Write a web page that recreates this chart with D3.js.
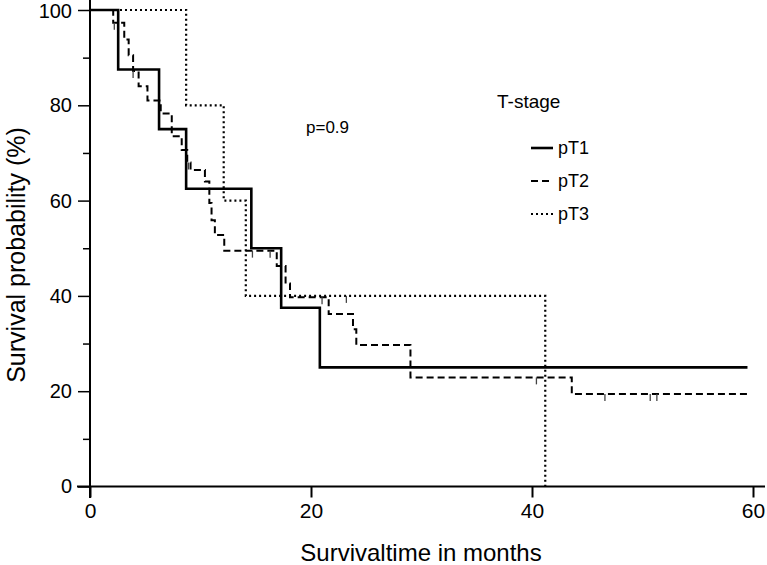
<!DOCTYPE html>
<html><head><meta charset="utf-8">
<script src="https://cdn.jsdelivr.net/npm/d3@7"></script>
<style>body{margin:0;background:#fff}svg{display:block}text{font-family:"Liberation Sans",Arial,sans-serif;fill:#000}</style>
</head><body><svg id="c" width="767" height="565"></svg>
<script>
// Data (months, survival %)
const pT1 = [[0,100],[2.55,87.5],[6.25,75],[8.7,62.5],[14.6,50],[17.3,37.5],[20.8,25],[59.5,25]];
const pT2 = [[0,100],[2.1,97.3],[3.1,93.8],[3.5,90.5],[3.9,87.2],[4.4,84],[5.2,81],[6.4,78.3],[7.4,73.5],[8.3,70.6],[8.8,68],[9.1,66.4],[10.4,64],[10.8,59.5],[11.0,55.9],[11.3,52.8],[12.15,49.5],[16.9,46.3],[17.7,42.6],[18.1,39.7],[21.6,36.2],[23.8,33.0],[24.1,29.7],[29.0,22.9],[43.6,19.4],[59.5,19.4]];
const pT3 = [[0,100],[8.7,80],[12.1,60],[14.1,40],[41.2,40],[41.2,0]];
const censT1 = [];
const censT2 = [[2.2,97.3],[3.9,87.2],[8.9,68],[14.7,49.5],[16.3,49.5],[21.0,39.7],[40.4,22.9],[46.6,19.4],[50.7,19.4],[51.3,19.4]];
const censT3 = [[23.2,40]];
const seriesNames = ["pT1","pT2","pT3"];
const xTicks = [0,20,40,60];
const yTicks = [0,10,20,30,40,50,60,70,80,90,100];
const yLabelTicks = [0,20,40,60,80,100];
const pText = "p=0.9";

const svg = d3.select("#c");
const x = d3.scaleLinear().domain([0,60]).range([90,753]);
const y = d3.scaleLinear().domain([0,100]).range([486.5,10]);

// axes
const xAxis = d3.axisBottom(x).tickValues(xTicks).tickSize(11).tickPadding(6).tickFormat(d3.format("d"));
const gx = svg.append("g").attr("transform","translate(0,486.5)").call(xAxis);
gx.select(".domain").remove();
gx.selectAll(".tick line").attr("stroke","#000").attr("stroke-width",2);
gx.selectAll(".tick text").style("font-size","21px");
svg.append("line").attr("x1",77).attr("x2",765).attr("y1",486.5).attr("y2",486.5).attr("stroke","#000").attr("stroke-width",2);

const yAxis = d3.axisLeft(y).tickValues(yTicks).tickSize(12).tickPadding(6)
  .tickFormat(d => yLabelTicks.includes(d) ? d : "");
const gy = svg.append("g").attr("transform","translate(90,0)").call(yAxis);
gy.select(".domain").remove();
gy.selectAll(".tick line").attr("stroke","#000").attr("stroke-width",1.5)
  .attr("x2", d => yLabelTicks.includes(d) ? -12 : -7);
gy.selectAll(".tick text").style("font-size","20px").attr("dy", d => d===100 ? "0.38em" : "0.32em");
svg.append("line").attr("x1",90).attr("x2",90).attr("y1",0).attr("y2",498).attr("stroke","#000").attr("stroke-width",2);

// curves
const line = d3.line().x(d=>x(d[0])).y(d=>y(d[1])).curve(d3.curveStepAfter);
const styles = {
  pT1:{w:2.6,dash:null},
  pT2:{w:2,dash:"7,4"},
  pT3:{w:2.2,dash:"2,3"}
};
const data = {pT1:pT1,pT2:pT2,pT3:pT3};
const cens = {pT1:censT1,pT2:censT2,pT3:censT3};
seriesNames.forEach(n=>{
  svg.append("path").datum(data[n]).attr("d",line).attr("fill","none")
    .attr("stroke","#000").attr("stroke-width",styles[n].w)
    .attr("stroke-dasharray",styles[n].dash);
  svg.selectAll(null).data(cens[n]).enter().append("line")
    .attr("x1",d=>x(d[0])).attr("x2",d=>x(d[0]))
    .attr("y1",d=>y(d[1])).attr("y2",d=>y(d[1])+7)
    .attr("stroke","#444").attr("stroke-width",1.3);
});

// annotations
svg.append("text").attr("x",306).attr("y",133).style("font-size","17px").text(pText);
svg.append("text").attr("x",497).attr("y",108).style("font-size","19px").text("T-stage");
seriesNames.forEach((n,i)=>{
  const yy = 148 + i*33;
  svg.append("line").attr("x1",531).attr("x2",553).attr("y1",yy).attr("y2",yy)
    .attr("stroke","#000").attr("stroke-width",styles[n].w).attr("stroke-dasharray",styles[n].dash);
  svg.append("text").attr("x",558).attr("y",yy+6).style("font-size","18px").text(n);
});

svg.append("text").attr("x",421).attr("y",561).attr("text-anchor","middle").style("font-size","24px").text("Survivaltime in months");
svg.append("text").attr("transform","translate(25,255) rotate(-90)").attr("text-anchor","middle").style("font-size","25px").text("Survival probability (%)");
</script></body></html>
